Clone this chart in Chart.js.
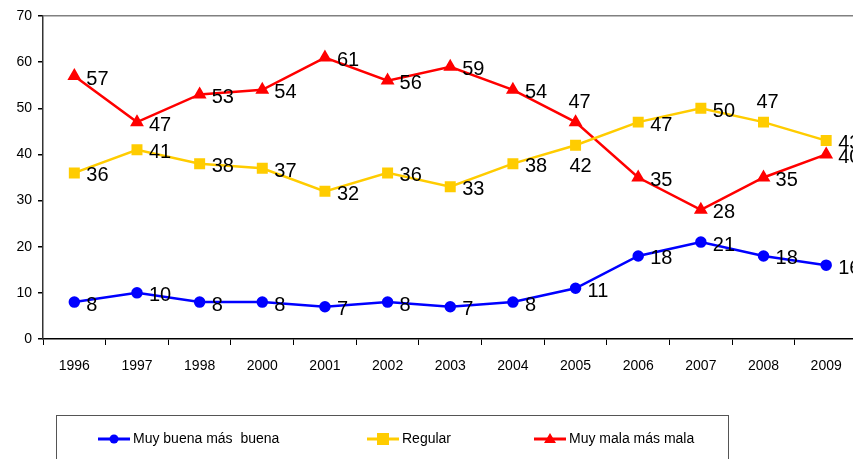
<!DOCTYPE html>
<html>
<head>
<meta charset="utf-8">
<script src="https://cdn.jsdelivr.net/npm/chart.js@4"></script>
<style>
  html, body { margin: 0; padding: 0; background: #fff; overflow: hidden; }
  #wrap { position: relative; width: 866px; height: 459px; }
</style>
</head>
<body>
<div id="wrap"><canvas id="opinion"></canvas></div>
<script>
// Years surveyed (1999 was skipped)
const years = ['1996', '1997', '1998', '2000', '2001', '2002', '2003', '2004', '2005', '2006', '2007', '2008', '2009'];

// Percentages per answer
const buena = [8, 10, 8, 8, 7, 8, 7, 8, 11, 18, 21, 18, 16];
const regular = [36, 41, 38, 37, 32, 36, 33, 38, 42, 47, 50, 47, 43];
const mala = [57, 47, 53, 54, 61, 56, 59, 54, 47, 35, 28, 35, 40];

const yTicks = [0, 10, 20, 30, 40, 50, 60, 70];

// where each value label sits: r = right of the point, a = above, b = below
const buenaPos = ['r', 'r', 'r', 'r', 'r', 'r', 'r', 'r', 'r', 'r', 'r', 'r', 'r'];
const regularPos = ['r', 'r', 'r', 'r', 'r', 'r', 'r', 'r', 'b', 'r', 'r', 'a', 'r'];
const malaPos = ['r', 'r', 'r', 'r', 'r', 'r', 'r', 'r', 'a', 'r', 'r', 'r', 'r'];

const FONT = '"Liberation Sans", Arial, sans-serif';

// Value labels next to every point
const valueLabels = {
    id: 'valueLabels',
    afterDatasetsDraw(chart) {
        const ctx = chart.ctx;
        ctx.save();
        ctx.font = '20px ' + FONT;
        ctx.fillStyle = '#000';
        ctx.textBaseline = 'middle';
        chart.data.datasets.forEach((ds, i) => {
            const meta = chart.getDatasetMeta(i);
            meta.data.forEach((pt, j) => {
                const pos = ds.labelPos[j];
                const txt = String(ds.data[j]);
                if (pos === 'r') {
                    ctx.textAlign = 'left';
                    ctx.fillText(txt, pt.x + 12, pt.y + 3);
                } else if (pos === 'a') {
                    ctx.textAlign = 'center';
                    ctx.fillText(txt, pt.x + 4, pt.y - 20);
                } else {
                    ctx.textAlign = 'center';
                    ctx.fillText(txt, pt.x + 5, pt.y + 21);
                }
            });
        });
        ctx.restore();
    }
};

// Boxed legend under the plot
const boxLegend = {
    id: 'boxLegend',
    afterDraw(chart) {
        const ctx = chart.ctx;
        ctx.save();
        ctx.strokeStyle = '#555';
        ctx.lineWidth = 1;
        ctx.strokeRect(56.5, 415.5, 672, 60);
        const xs = [98, 367, 534];
        const y = 439;
        ctx.font = '14px ' + FONT;
        ctx.textBaseline = 'middle';
        ctx.textAlign = 'left';
        chart.data.datasets.forEach((ds, i) => {
            const x = xs[i];
            ctx.strokeStyle = ds.borderColor;
            ctx.lineWidth = 3;
            ctx.beginPath();
            ctx.moveTo(x, y);
            ctx.lineTo(x + 32, y);
            ctx.stroke();
            ctx.fillStyle = ds.borderColor;
            const cx = x + 16;
            if (ds.pointStyle === 'circle') {
                ctx.beginPath();
                ctx.arc(cx, y, 4.5, 0, Math.PI * 2);
                ctx.fill();
            } else if (ds.pointStyle === 'rect') {
                ctx.fillRect(cx - 6, y - 6, 12, 12);
            } else {
                ctx.beginPath();
                ctx.moveTo(cx, y - 6);
                ctx.lineTo(cx + 6, y + 4);
                ctx.lineTo(cx - 6, y + 4);
                ctx.closePath();
                ctx.fill();
            }
            ctx.fillStyle = '#000';
            ctx.fillText(ds.label, x + 35, y);
        });
        ctx.restore();
    }
};

const ctx = document.getElementById('opinion').getContext('2d');
const chart = new Chart(ctx, {
    type: 'line',
    data: {
        labels: years,
        datasets: [{
            label: 'Muy buena más  buena',
            data: buena,
            labelPos: buenaPos,
            borderColor: '#0000FF',
            backgroundColor: '#0000FF',
            pointStyle: 'circle',
            pointRadius: 4.5,
            borderWidth: 2.5
        }, {
            label: 'Regular',
            data: regular,
            labelPos: regularPos,
            borderColor: '#FFCC00',
            backgroundColor: '#FFCC00',
            pointStyle: 'rect',
            pointRadius: 6,
            borderWidth: 2.5
        }, {
            label: 'Muy mala más mala',
            data: mala,
            labelPos: malaPos,
            borderColor: '#FF0000',
            backgroundColor: '#FF0000',
            pointStyle: 'triangle',
            pointRadius: 5.5,
            borderWidth: 2.5
        }]
    },
    options: {
        responsive: true,
        maintainAspectRatio: false,
        animation: false,
        layout: { padding: { top: 16, right: 2, bottom: 0, left: 0 } },
        plugins: {
            legend: { display: false },
            tooltip: { enabled: false }
        },
        elements: {
            line: { tension: 0 },
            point: { borderWidth: 0 }
        },
        scales: {
            x: {
                offset: true,
                afterFit(scale) {
                    scale.height = 120;
                },
                grid: {
                    offset: true,
                    drawOnChartArea: false,
                    tickLength: 6,
                    tickColor: '#000'
                },
                border: { color: '#000', width: 1.5 },
                ticks: {
                    color: '#000',
                    font: { family: FONT, size: 14 },
                    padding: 13,
                    maxRotation: 0
                }
            },
            y: {
                min: 0,
                max: 70,
                afterBuildTicks(scale) {
                    scale.ticks = yTicks.map(v => ({ value: v }));
                },
                afterFit(scale) {
                    scale.width = 43;
                },
                grid: {
                    color: c => (c.tick && c.tick.value === 70 ? '#808080' : 'rgba(0,0,0,0)'),
                    lineWidth: 1.5,
                    tickLength: 5,
                    tickColor: '#000'
                },
                border: { color: '#333', width: 1.5 },
                ticks: {
                    color: '#000',
                    font: { family: FONT, size: 14 },
                    padding: 6
                }
            }
        }
    },
    plugins: [valueLabels, boxLegend]
});
</script>
</body>
</html>
